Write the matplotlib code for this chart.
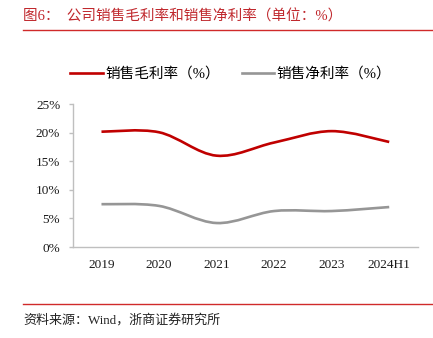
import matplotlib
matplotlib.use("Agg")
import matplotlib.pyplot as plt
from matplotlib.path import Path
from matplotlib.patches import PathPatch
from matplotlib.lines import Line2D
import numpy as np

years = ["2019", "2020", "2021", "2022", "2023", "2024H1"]
gross_margin = [20.2, 20.1, 16.0, 18.3, 20.3, 18.4]   # 销售毛利率 (%)
net_margin = [7.5, 7.2, 4.2, 6.3, 6.3, 7.0]           # 销售净利率 (%)
yticks = [0, 5, 10, 15, 20, 25]

fonts = ['Liberation Serif', 'Noto Sans CJK SC']
red = '#C00000'
gray = '#969696'
W, H = 433, 338


def smooth_path(xs, ys, t=1/6):
    '''Excel-like smoothed line as cubic bezier segments'''
    pts = np.column_stack([xs, ys]).astype(float)
    verts = [pts[0]]
    codes = [Path.MOVETO]
    n = len(pts)
    for i in range(n - 1):
        p0 = pts[i - 1] if i > 0 else pts[i]
        p1 = pts[i]
        p2 = pts[i + 1]
        p3 = pts[i + 2] if i + 2 < n else pts[i + 1]
        c1 = p1 + (p2 - p0) * t
        c2 = p2 - (p3 - p1) * t
        verts += [c1, c2, p2]
        codes += [Path.CURVE4] * 3
    return Path(verts, codes)


fig = plt.figure(figsize=(W / 100, H / 100), dpi=100)
ax = fig.add_axes([72.7 / W, 1 - 247 / H, (418 - 72.7) / W, (247 - 104.3) / H])

x = np.arange(len(years))
for vals, col in [(gross_margin, red), (net_margin, gray)]:
    ax.add_patch(PathPatch(smooth_path(x, vals), facecolor='none',
                           edgecolor=col, lw=1.9, capstyle='butt'))

ax.set_xlim(-0.5, len(years) - 0.5)
ax.set_ylim(0, 25)
ax.set_xticks(x)
ax.set_xticklabels(years)
ax.set_yticks(yticks)
ax.set_yticklabels([f"{v}%" for v in yticks])
for s in ['top', 'right']:
    ax.spines[s].set_visible(False)
for s in ['left', 'bottom']:
    ax.spines[s].set_color('#BFBFBF')
    ax.spines[s].set_linewidth(1.0)
ax.tick_params(axis='x', length=0, pad=9, labelsize=9.5)
ax.tick_params(axis='y', length=3, width=1, color='#BFBFBF', pad=6, labelsize=9.5)
for lab in ax.get_xticklabels() + ax.get_yticklabels():
    lab.set_family(fonts)
    lab.set_color('#1a1a1a')

# legend
handles = [Line2D([], [], color=red, lw=1.9), Line2D([], [], color=gray, lw=1.9)]
leg = fig.legend(handles, ['销售毛利率（%）', '销售净利率（%）'], ncol=2,
                 loc='center left', bbox_to_anchor=(70 / W, 1 - 74 / H),
                 frameon=False, borderpad=0, borderaxespad=0,
                 handlelength=2.25, handletextpad=0.15, columnspacing=1.5,
                 prop={'family': fonts, 'size': 10.5})

# title and source
fig.text(23 / W, 1 - 17 / H, '图6：  公司销售毛利率和销售净利率（单位：%）',
         color='#C0282D', fontsize=10.5, family=fonts, va='center', ha='left')
fig.add_artist(Line2D([23 / W, 1], [1 - 29.7 / H] * 2, color='#D02A2A', lw=1.0))
fig.add_artist(Line2D([23 / W, 1], [1 - 304.3 / H] * 2, color='#D02A2A', lw=1.0))
fig.text(23 / W, 1 - 320 / H, '资料来源：Wind，浙商证券研究所',
         color='#222222', fontsize=9.4, family=fonts, va='center', ha='left')

fig.savefig('out.png', dpi=100)
